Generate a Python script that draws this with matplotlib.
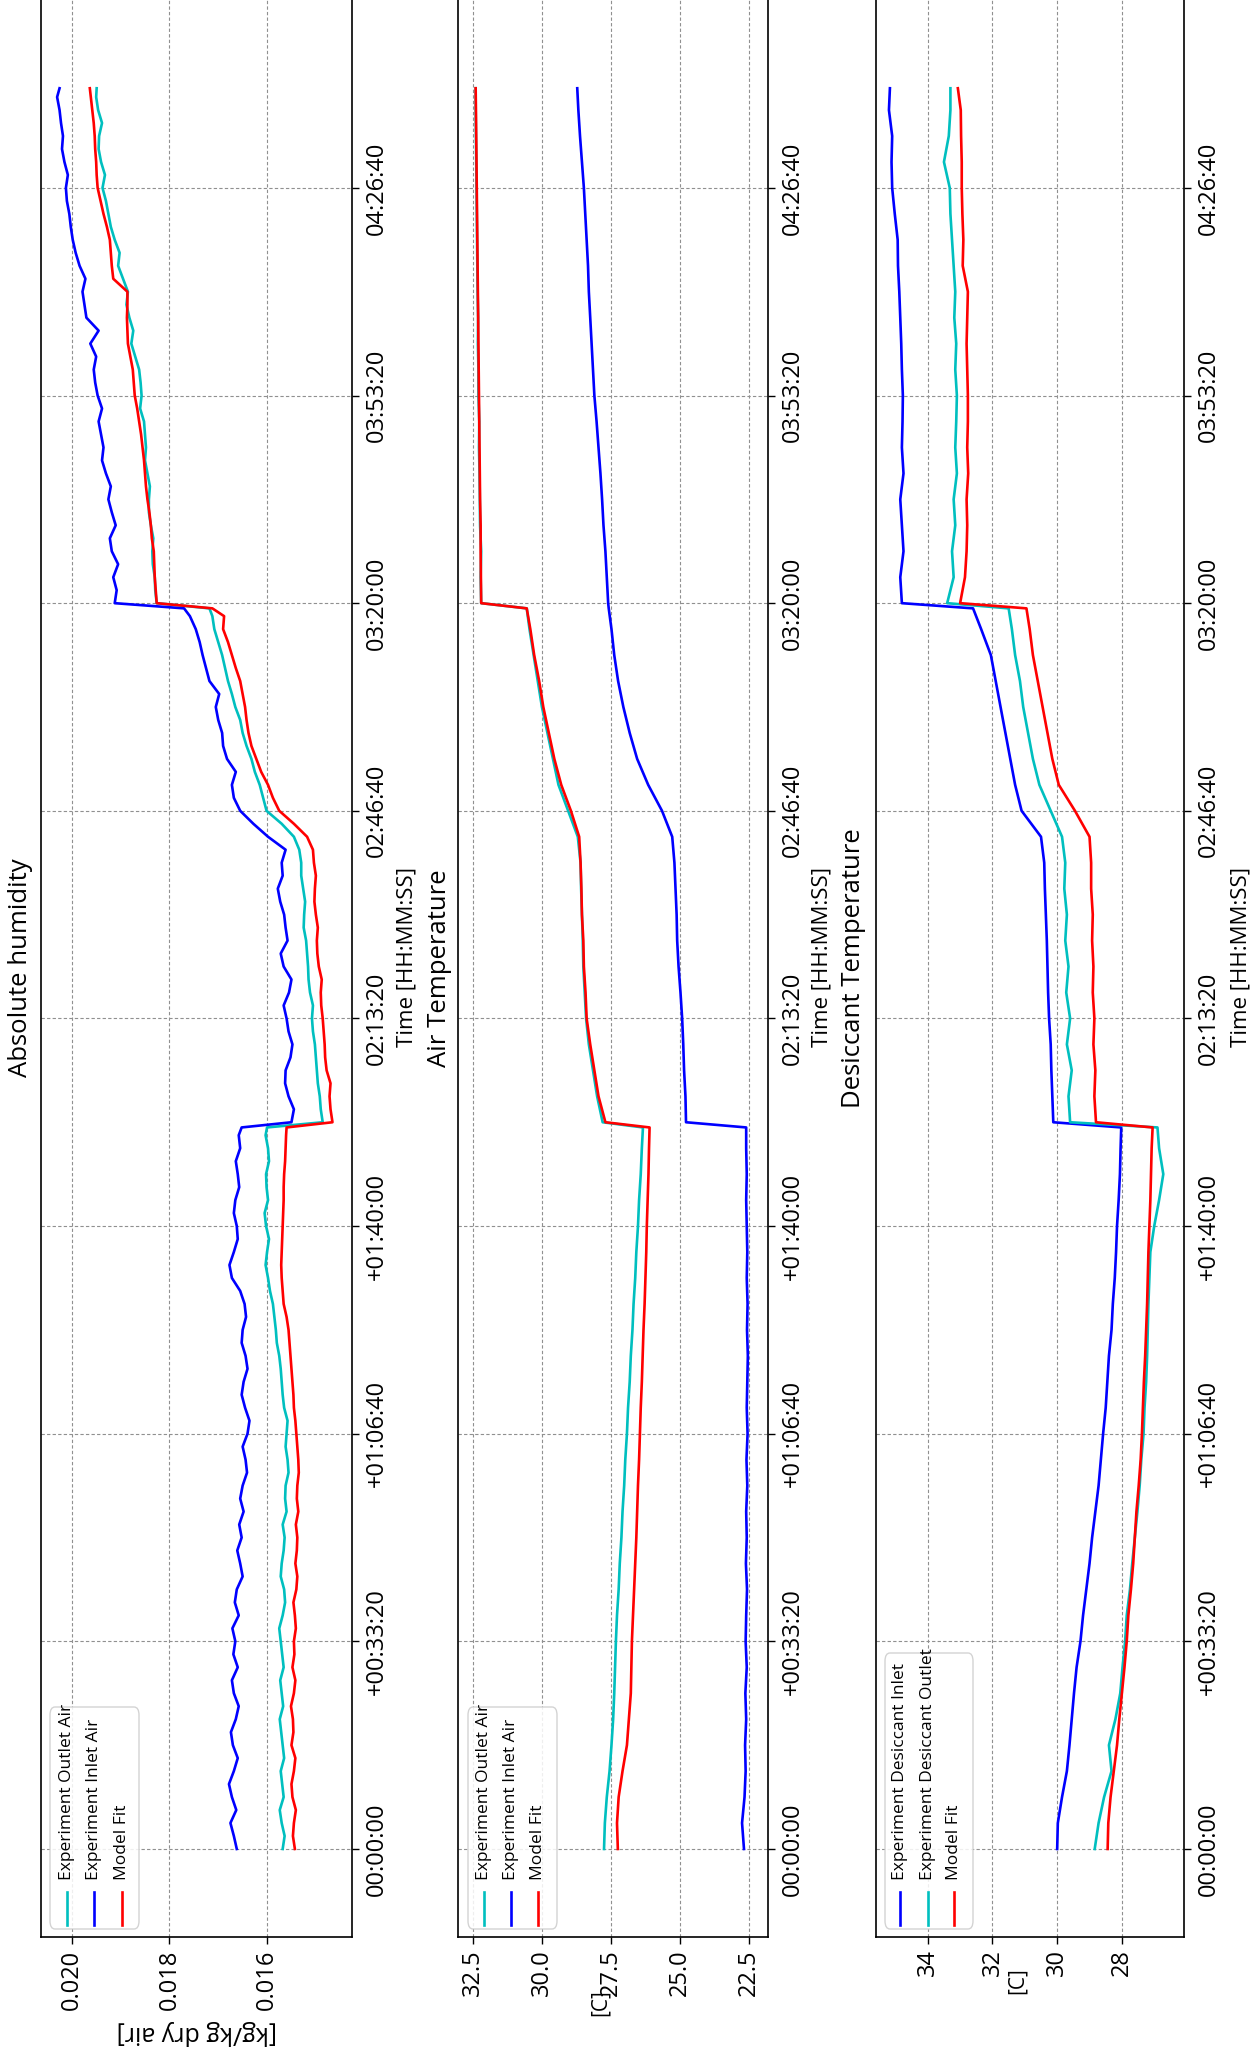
import matplotlib
matplotlib.use('Agg')
import matplotlib.pyplot as plt
from matplotlib.patches import FancyBboxPatch
from matplotlib.lines import Line2D

plt.rcParams['font.family'] = ['Open Sans', 'DejaVu Sans']

W, H = 1257, 2049

# ---------------- data ----------------
# time samples [s] for the temperature panels
time_s = [0, 250, 500, 750, 1000, 1250, 1500, 1750, 2000, 2250, 2500, 2750, 3000, 3250,
          3500, 3750, 4000, 4250, 4500, 4750, 5000, 5250, 5500, 5750, 6000, 6250, 6500, 6750,
          6950,
          7000, 7250, 7500, 7750, 8000, 8250, 8500, 8750, 9000, 9250, 9500, 9750, 10000,
          10250, 10500, 10750, 11000, 11250, 11500, 11750, 11950,
          12000, 12250, 12500, 12750, 13000, 13250, 13500, 13750, 14000, 14250, 14500,
          14750, 15000, 15250, 15500, 15750, 16000, 16250, 16500, 16750, 16960]

# time samples [s] for the humidity panel
hum_time = [0, 125, 250, 375, 500, 625, 750, 875, 1000, 1125, 1250, 1375, 1500, 1625, 1750, 1875,
            2000, 2125, 2250, 2375, 2500, 2625, 2750, 2875, 3000, 3125, 3250, 3375, 3500, 3625,
            3750, 3875, 4000, 4125, 4250, 4375, 4500, 4625, 4750, 4875, 5000, 5125, 5250, 5375,
            5500, 5625, 5750, 5875, 6000, 6125, 6250, 6375, 6500, 6625, 6750, 6875, 6950,
            7000, 7125, 7250, 7375, 7500, 7625, 7750, 7875, 8000, 8125, 8250, 8375, 8500, 8625,
            8750, 8875, 9000, 9125, 9250, 9375, 9500, 9625, 9750, 9875, 10000, 10125, 10250,
            10375, 10500, 10625, 10750, 10875, 11000, 11125, 11250, 11375, 11500, 11625, 11750,
            11875, 11950,
            12000, 12125, 12250, 12375, 12500, 12625, 12750, 12875, 13000, 13125, 13250, 13375,
            13500, 13625, 13750, 13875, 14000, 14125, 14250, 14375, 14500, 14625, 14750, 14875,
            15000, 15125, 15250, 15375, 15500, 15625, 15750, 15875, 16000, 16125, 16250, 16375,
            16500, 16625, 16750, 16875, 16960]

time_ticks = [0, 2000, 4000, 6000, 8000, 10000, 12000, 14000, 16000]
time_labels = ['00:00:00', '+00:33:20', '+01:06:40', '+01:40:00', '02:13:20',
               '02:46:40', '03:20:00', '03:53:20', '04:26:40']

hum_outlet = [0.01568, 0.01564, 0.01570, 0.01574, 0.01566, 0.01569, 0.01572, 0.01565, 0.01568, 0.01571,
              0.01574, 0.01567, 0.01570, 0.01573, 0.01566, 0.01569, 0.01572, 0.01575, 0.01568, 0.01563,
              0.01565, 0.01572, 0.01570, 0.01566, 0.01564, 0.01568, 0.01560, 0.01563, 0.01562, 0.01556,
              0.01558, 0.01562, 0.01560, 0.01558, 0.01565, 0.01568, 0.01570, 0.01572, 0.01575, 0.01580,
              0.01582, 0.01585, 0.01588, 0.01594, 0.01598, 0.01603, 0.01600, 0.01596, 0.01602, 0.01605,
              0.01598, 0.01601, 0.01602, 0.01596, 0.01598, 0.01603, 0.01600,
              0.01486, 0.01490, 0.01492, 0.01496, 0.01498, 0.01500, 0.01502, 0.01506, 0.01508, 0.01506,
              0.01512, 0.01515, 0.01516, 0.01518, 0.01520, 0.01525, 0.01524, 0.01522, 0.01526, 0.01530,
              0.01530, 0.01534, 0.01545, 0.01570, 0.01601, 0.01608, 0.01615, 0.01625, 0.01632, 0.01642,
              0.01650, 0.01655, 0.01665, 0.01672, 0.01680, 0.01686, 0.01692, 0.01700, 0.01708, 0.01712,
              0.01718,
              0.01826, 0.01829, 0.01830, 0.01834, 0.01835, 0.01833, 0.01838, 0.01842, 0.01842, 0.01840,
              0.01845, 0.01850, 0.01848, 0.01850, 0.01852, 0.01860, 0.01857, 0.01859, 0.01862, 0.01870,
              0.01878, 0.01874, 0.01882, 0.01888, 0.01885, 0.01895, 0.01905, 0.01902, 0.01912, 0.01920,
              0.01925, 0.01930, 0.01937, 0.01932, 0.01940, 0.01945, 0.01944, 0.01938, 0.01946, 0.01950,
              0.01949]
hum_inlet = [0.01662, 0.01668, 0.01675, 0.01663, 0.01672, 0.01678, 0.01668, 0.01660, 0.01670, 0.01674,
             0.01664, 0.01658, 0.01668, 0.01672, 0.01660, 0.01669, 0.01665, 0.01671, 0.01658, 0.01666,
             0.01662, 0.01650, 0.01655, 0.01661, 0.01652, 0.01657, 0.01648, 0.01655, 0.01650, 0.01641,
             0.01644, 0.01650, 0.01640, 0.01636, 0.01645, 0.01652, 0.01648, 0.01640, 0.01644, 0.01652,
             0.01650, 0.01643, 0.01646, 0.01655, 0.01672, 0.01677, 0.01668, 0.01660, 0.01662, 0.01668,
             0.01665, 0.01657, 0.01660, 0.01664, 0.01655, 0.01658, 0.01652,
             0.01550, 0.01545, 0.01556, 0.01563, 0.01562, 0.01552, 0.01548, 0.01556, 0.01560, 0.01566,
             0.01555, 0.01550, 0.01566, 0.01572, 0.01558, 0.01562, 0.01565, 0.01573, 0.01578, 0.01568,
             0.01570, 0.01562, 0.01598, 0.01628, 0.01655, 0.01668, 0.01672, 0.01664, 0.01682, 0.01690,
             0.01692, 0.01700, 0.01705, 0.01698, 0.01718, 0.01725, 0.01732, 0.01738, 0.01746, 0.01758,
             0.01770,
             0.01912, 0.01908, 0.01915, 0.01905, 0.01918, 0.01922, 0.01910, 0.01918, 0.01925, 0.01920,
             0.01930, 0.01938, 0.01935, 0.01940, 0.01945, 0.01938, 0.01947, 0.01952, 0.01955, 0.01950,
             0.01962, 0.01945, 0.01970, 0.01974, 0.01978, 0.01972, 0.01984, 0.01992, 0.01998, 0.02002,
             0.02005, 0.02010, 0.02012, 0.02008, 0.02015, 0.02020, 0.02018, 0.02022, 0.02025, 0.02030,
             0.02025]
hum_model = [0.01543, 0.01547, 0.01545, 0.01541, 0.01548, 0.01550, 0.01545, 0.01542, 0.01550, 0.01546,
             0.01547, 0.01551, 0.01545, 0.01542, 0.01548, 0.01544, 0.01545, 0.01541, 0.01543, 0.01546,
             0.01540, 0.01538, 0.01542, 0.01539, 0.01538, 0.01541, 0.01536, 0.01539, 0.01538, 0.01535,
             0.01536, 0.01538, 0.01540, 0.01542, 0.01545, 0.01546, 0.01548, 0.01550, 0.01552, 0.01554,
             0.01556, 0.01560, 0.01566, 0.01568, 0.01570, 0.01571, 0.01570, 0.01569, 0.01568, 0.01567,
             0.01566, 0.01566, 0.01565, 0.01563, 0.01562, 0.01561, 0.01560,
             0.01466, 0.01470, 0.01472, 0.01470, 0.01478, 0.01481, 0.01482, 0.01484, 0.01486, 0.01489,
             0.01490, 0.01488, 0.01494, 0.01497, 0.01498, 0.01496, 0.01500, 0.01503, 0.01502, 0.01500,
             0.01504, 0.01506, 0.01518, 0.01545, 0.01575, 0.01588, 0.01598, 0.01612, 0.01622, 0.01632,
             0.01638, 0.01642, 0.01645, 0.01650, 0.01655, 0.01664, 0.01672, 0.01680, 0.01690, 0.01688,
             0.01712,
             0.01826, 0.01828, 0.01830, 0.01831, 0.01832, 0.01836, 0.01838, 0.01841, 0.01845, 0.01848,
             0.01850, 0.01852, 0.01855, 0.01858, 0.01862, 0.01866, 0.01871, 0.01873, 0.01875, 0.01880,
             0.01885, 0.01886, 0.01887, 0.01886, 0.01886, 0.01915, 0.01918, 0.01920, 0.01922, 0.01928,
             0.01935, 0.01941, 0.01947, 0.01949, 0.01950, 0.01952, 0.01953, 0.01955, 0.01958, 0.01961,
             0.01963]

air_outlet = [27.75, 27.72, 27.65, 27.55, 27.48, 27.42, 27.38, 27.35, 27.32, 27.28, 27.22, 27.18, 27.12,
              27.08, 27.02, 26.98, 26.92, 26.88, 26.82, 26.78, 26.72, 26.68, 26.62, 26.58, 26.52, 26.48,
              26.42, 26.38, 26.34,
              27.80, 28.00, 28.15, 28.30, 28.40, 28.45, 28.50, 28.52, 28.55, 28.58, 28.60, 28.70, 29.05,
              29.40, 29.60, 29.80, 30.00, 30.15, 30.30, 30.45, 30.55,
              32.20, 32.22, 32.20, 32.24, 32.25, 32.26, 32.28, 32.27, 32.30, 32.30, 32.32, 32.31, 32.33,
              32.34, 32.35, 32.36, 32.37, 32.38, 32.39, 32.40, 32.40]
air_inlet = [22.68, 22.75, 22.66, 22.62, 22.64, 22.60, 22.63, 22.58, 22.62, 22.60, 22.57, 22.61, 22.58,
             22.60, 22.56, 22.59, 22.55, 22.58, 22.56, 22.54, 22.57, 22.55, 22.58, 22.56, 22.58, 22.60,
             22.58, 22.60, 22.60,
             24.78, 24.80, 24.85, 24.88, 24.92, 24.98, 25.05, 25.10, 25.12, 25.16, 25.20, 25.28, 25.65,
             26.15, 26.55, 26.82, 27.05, 27.24, 27.38, 27.48, 27.58,
             27.60, 27.65, 27.70, 27.77, 27.82, 27.88, 27.95, 28.02, 28.10, 28.15, 28.20, 28.25, 28.30,
             28.33, 28.38, 28.43, 28.48, 28.55, 28.62, 28.68, 28.72]
air_model = [27.25, 27.28, 27.22, 27.08, 26.92, 26.85, 26.78, 26.76, 26.74, 26.70, 26.66, 26.62, 26.58,
             26.55, 26.52, 26.48, 26.45, 26.42, 26.38, 26.35, 26.32, 26.28, 26.25, 26.22, 26.20, 26.17,
             26.14, 26.12, 26.10,
             27.70, 27.95, 28.10, 28.25, 28.38, 28.42, 28.48, 28.50, 28.55, 28.57, 28.60, 28.65, 28.95,
             29.30, 29.55, 29.75, 29.95, 30.10, 30.28, 30.42, 30.55,
             32.20, 32.21, 32.22, 32.22, 32.24, 32.25, 32.26, 32.27, 32.28, 32.29, 32.30, 32.31, 32.32,
             32.33, 32.34, 32.35, 32.36, 32.37, 32.38, 32.39, 32.40]

des_inlet = [30.00, 29.98, 29.85, 29.70, 29.62, 29.55, 29.48, 29.40, 29.28, 29.20, 29.10, 29.00, 28.92,
             28.82, 28.72, 28.65, 28.58, 28.50, 28.45, 28.40, 28.32, 28.28, 28.22, 28.18, 28.15, 28.10,
             28.06, 28.04, 28.02,
             30.12, 30.15, 30.18, 30.20, 30.25, 30.28, 30.30, 30.32, 30.35, 30.38, 30.40, 30.50, 31.10,
             31.30, 31.45, 31.60, 31.75, 31.90, 32.05, 32.35, 32.60,
             34.80, 34.85, 34.75, 34.80, 34.85, 34.75, 34.80, 34.78, 34.77, 34.80, 34.82, 34.85, 34.88,
             34.92, 34.93, 35.02, 35.10, 35.12, 35.10, 35.20, 35.17]
des_outlet = [28.84, 28.72, 28.55, 28.32, 28.40, 28.20, 28.05, 27.98, 27.90, 27.85, 27.75, 27.68, 27.60,
              27.52, 27.45, 27.40, 27.33, 27.30, 27.25, 27.22, 27.20, 27.18, 27.15, 27.12, 27.00, 26.85,
              26.72, 26.85, 26.90,
              29.60, 29.65, 29.55, 29.70, 29.60, 29.72, 29.65, 29.75, 29.70, 29.78, 29.75, 29.85, 30.20,
              30.55, 30.75, 30.90, 31.05, 31.15, 31.30, 31.40, 31.50,
              33.40, 33.20, 33.25, 33.15, 33.20, 33.10, 33.15, 33.12, 33.10, 33.15, 33.12, 33.18, 33.15,
              33.20, 33.25, 33.30, 33.32, 33.50, 33.35, 33.30, 33.30]
des_model = [28.44, 28.42, 28.35, 28.25, 28.15, 28.08, 28.00, 27.92, 27.85, 27.80, 27.72, 27.65, 27.60,
             27.55, 27.48, 27.42, 27.38, 27.35, 27.32, 27.28, 27.25, 27.22, 27.20, 27.18, 27.15, 27.12,
             27.10, 27.08, 27.05,
             28.80, 28.85, 28.82, 28.88, 28.85, 28.90, 28.88, 28.92, 28.90, 28.95, 28.95, 29.00, 29.45,
             29.95, 30.15, 30.30, 30.45, 30.60, 30.75, 30.85, 30.95,
             33.00, 32.85, 32.80, 32.78, 32.80, 32.75, 32.78, 32.76, 32.76, 32.78, 32.80, 32.78, 32.76,
             32.92, 32.90, 32.93, 32.95, 32.95, 32.97, 32.98, 33.07]

hum_ticks = [0.016, 0.018, 0.020]
hum_ticklabels = ['0.016', '0.018', '0.020']
air_ticks = [22.5, 25.0, 27.5, 30.0, 32.5]
air_ticklabels = ['22.5', '25.0', '27.5', '30.0', '32.5']
des_ticks = [28, 30, 32, 34]
des_ticklabels = ['28', '30', '32', '34']

# ---------------- figure ----------------
fig = plt.figure(figsize=(W / 100, H / 100), dpi=100)


def fx(x):
    return x / W


def fy(y):
    return 1 - y / H


panels = [
    dict(x0=41, x1=352, lim=(0.02063, 0.01426), ticks=hum_ticks, ticklabels=hum_ticklabels,
         t=hum_time,
         series=[(hum_outlet, 'c', 'Experiment Outlet Air'),
                 (hum_inlet, 'b', 'Experiment Inlet Air'),
                 (hum_model, 'r', 'Model Fit')],
         title='Absolute humidity', title_x=21, tlabel_x=407,
         leg=(50, 139, 1707, 1929), leg_x=[67, 94, 122]),
    dict(x0=458, x1=768, lim=(33.04, 21.81), ticks=air_ticks, ticklabels=air_ticklabels,
         t=time_s,
         series=[(air_outlet, 'c', 'Experiment Outlet Air'),
                 (air_inlet, 'b', 'Experiment Inlet Air'),
                 (air_model, 'r', 'Model Fit')],
         title='Air Temperature', title_x=439, tlabel_x=822,
         leg=(468, 557, 1707, 1929), leg_x=[484, 511, 538]),
    dict(x0=876, x1=1184, lim=(35.6, 26.08), ticks=des_ticks, ticklabels=des_ticklabels,
         t=time_s,
         series=[(des_inlet, 'b', 'Experiment Desiccant Inlet'),
                 (des_outlet, 'c', 'Experiment Desiccant Outlet'),
                 (des_model, 'r', 'Model Fit')],
         title='Desiccant Temperature', title_x=854, tlabel_x=1241,
         leg=(885, 973, 1653, 1929), leg_x=[900, 928, 954]),
]

ax_top, ax_bot = 0, 1937
for p in panels:
    ax = fig.add_axes([fx(p['x0']), fy(ax_bot), (p['x1'] - p['x0']) / W, (ax_bot - ax_top) / H])
    tt = p['t']
    for vals, col, lab in p['series']:
        n = min(len(tt), len(vals))
        ax.plot(vals[:n], tt[:n], color=col, lw=1.9, label=lab, solid_joinstyle='round')
    ax.set_xlim(*p['lim'])
    ax.set_ylim(-848, 17810)
    ax.set_xticks(p['ticks'])
    ax.set_xticklabels(p['ticklabels'], rotation=90, fontsize=17)
    ax.set_yticks(time_ticks)
    ax.set_yticklabels(time_labels, rotation=90, fontsize=17, va='center')
    ax.yaxis.tick_right()
    ax.tick_params(axis='both', direction='out', length=5, width=1, color='black', pad=4)
    ax.grid(True, color='#909090', linestyle=(0, (3, 2)), linewidth=0.8)
    for s in ax.spines.values():
        s.set_linewidth(1.2)
    ax.spines['top'].set_visible(False)

    # titles and axis labels (rotated figure)
    fig.text(fx(p['title_x']), fy(968), p['title'], rotation=90, fontsize=18.5,
             ha='center', va='center')
    fig.text(fx(p['tlabel_x']), fy(957), 'Time [HH:MM:SS]', rotation=90, fontsize=16,
             ha='center', va='center')

    # legend drawn in rotated orientation
    lx0, lx1, ly0, ly1 = p['leg']
    box = FancyBboxPatch((fx(lx0), fy(ly1)), (lx1 - lx0) / W, (ly1 - ly0) / H,
                         boxstyle='round,pad=0,rounding_size=0.004',
                         transform=fig.transFigure, facecolor='white', edgecolor='#cccccc',
                         linewidth=1.0, alpha=0.85, zorder=5)
    fig.add_artist(box)
    for (vals, col, lab), xc in zip(p['series'], p['leg_x']):
        fig.add_artist(Line2D([fx(xc), fx(xc)], [fy(1925), fy(1892)], color=col, lw=1.9,
                              transform=fig.transFigure, zorder=6))
        fig.text(fx(xc), fy(1880), lab, rotation=90, fontsize=12.5, ha='center', va='bottom',
                 zorder=6)

fig.text(fx(197), fy(2032), '[kg/kg dry air]', rotation=180, fontsize=18, ha='center', va='center')
fig.text(fx(600), fy(2003), '[C]', rotation=90, fontsize=15, ha='center', va='center')
fig.text(fx(1017), fy(1981), '[C]', rotation=90, fontsize=15, ha='center', va='center')

fig.savefig('out.png', dpi=100, facecolor='white')
